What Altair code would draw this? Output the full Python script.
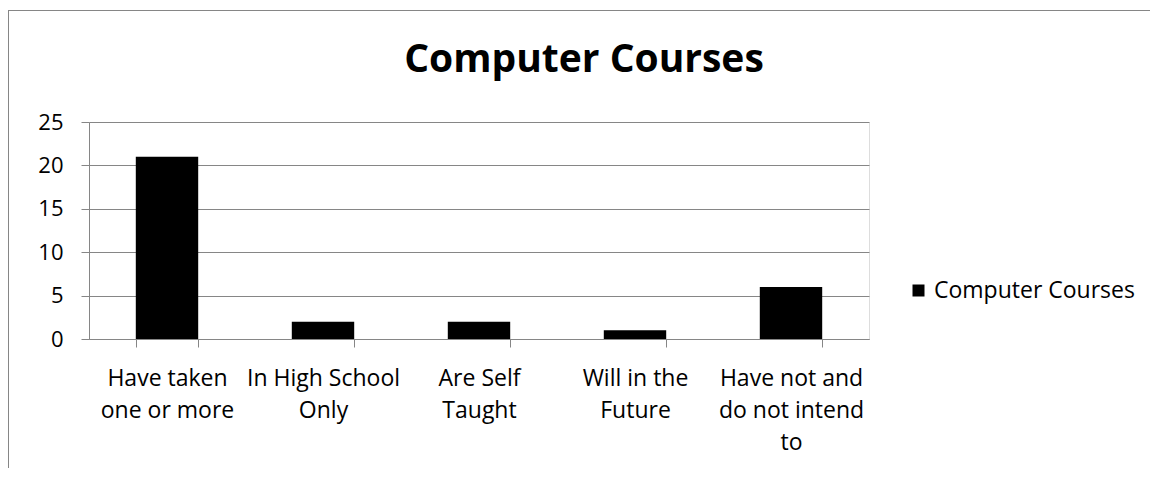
import altair as alt
import pandas as pd

categories = [
    "Have taken one or more",
    "In High School Only",
    "Are Self Taught",
    "Will in the Future",
    "Have not and do not intend to",
]
label_lines = [
    ["Have taken", "one or more"],
    ["In High School", "Only"],
    ["Are Self", "Taught"],
    ["Will in the", "Future"],
    ["Have not and", "do not intend", "to"],
]
values = [21, 2, 2, 1, 6]
series_name = "Computer Courses"
y_ticks = [0, 5, 10, 15, 20, 25]

FONT = "Open Sans"
GRAY = "#868686"

df = pd.DataFrame({"cat": categories, "val": values, "series": [series_name] * len(values)})

# label expression mapping category -> multi-line label
expr = "''"
for c, lines in reversed(list(zip(categories, label_lines))):
    arr = "[" + ",".join("'" + l + "'" for l in lines) + "]"
    expr = f"datum.value == '{c}' ? {arr} : ({expr})"

bars = alt.Chart(df).mark_bar(color="black").encode(
    x=alt.X(
        "cat:N",
        sort=categories,
        title=None,
        scale=alt.Scale(paddingInner=0.6, paddingOuter=0.3),
        axis=alt.Axis(
            labelExpr=expr,
            labelAngle=0,
            labelFont=FONT,
            labelFontSize=23,
            labelColor="black",
            labelLineHeight=32,
            labelPadding=20,
            labelLimit=300,
            tickBand="extent",
            tickSize=8,
            tickColor=GRAY,
            domainColor=GRAY,
            grid=False,
        ),
    ),
    y=alt.Y(
        "val:Q",
        title=None,
        scale=alt.Scale(domain=[0, 25], nice=False),
        axis=alt.Axis(
            values=y_ticks,
            labelFont=FONT,
            labelFontSize=22,
            labelColor="black",
            labelPadding=18,
            tickSize=8,
            tickColor=GRAY,
            domainColor=GRAY,
            gridColor=GRAY,
            grid=True,
        ),
    ),
    color=alt.Color(
        "series:N",
        scale=alt.Scale(range=["black"]),
        legend=alt.Legend(
            title=None,
            orient="none",
            legendX=818,
            legendY=157,
            symbolType="square",
            symbolSize=144,
            symbolStrokeWidth=0,
            labelFont=FONT,
            labelFontSize=23,
            labelColor="black",
            labelOffset=4,
            labelLimit=400,
            padding=0,
        ),
    ),
)

frame_df = pd.DataFrame({"k": [0]})
top_border = alt.Chart(frame_df).mark_rule(color=GRAY, strokeWidth=1).encode(
    x=alt.value(-81), x2=alt.value(1061), y=alt.value(-111.5)
)
left_border = alt.Chart(frame_df).mark_rule(color=GRAY, strokeWidth=1).encode(
    x=alt.value(-80.5), y=alt.value(-112), y2=alt.value(346)
)

chart = alt.layer(bars, top_border, left_border).properties(
    width=780,
    height=217,
    title=alt.TitleParams(
        text="Computer Courses",
        font=FONT,
        fontSize=39,
        fontWeight="bold",
        color="black",
        anchor="middle",
        baseline="alphabetic",
        dx=105,
        dy=101,
        offset=0,
    ),
    autosize=alt.AutoSizeParams(type="none"),
    padding={"left": 81, "top": 114, "right": 281, "bottom": 129},
).configure_view(stroke=None).configure(background="white")

chart.save("out.html", embed_options={"renderer": "svg", "actions": False})
